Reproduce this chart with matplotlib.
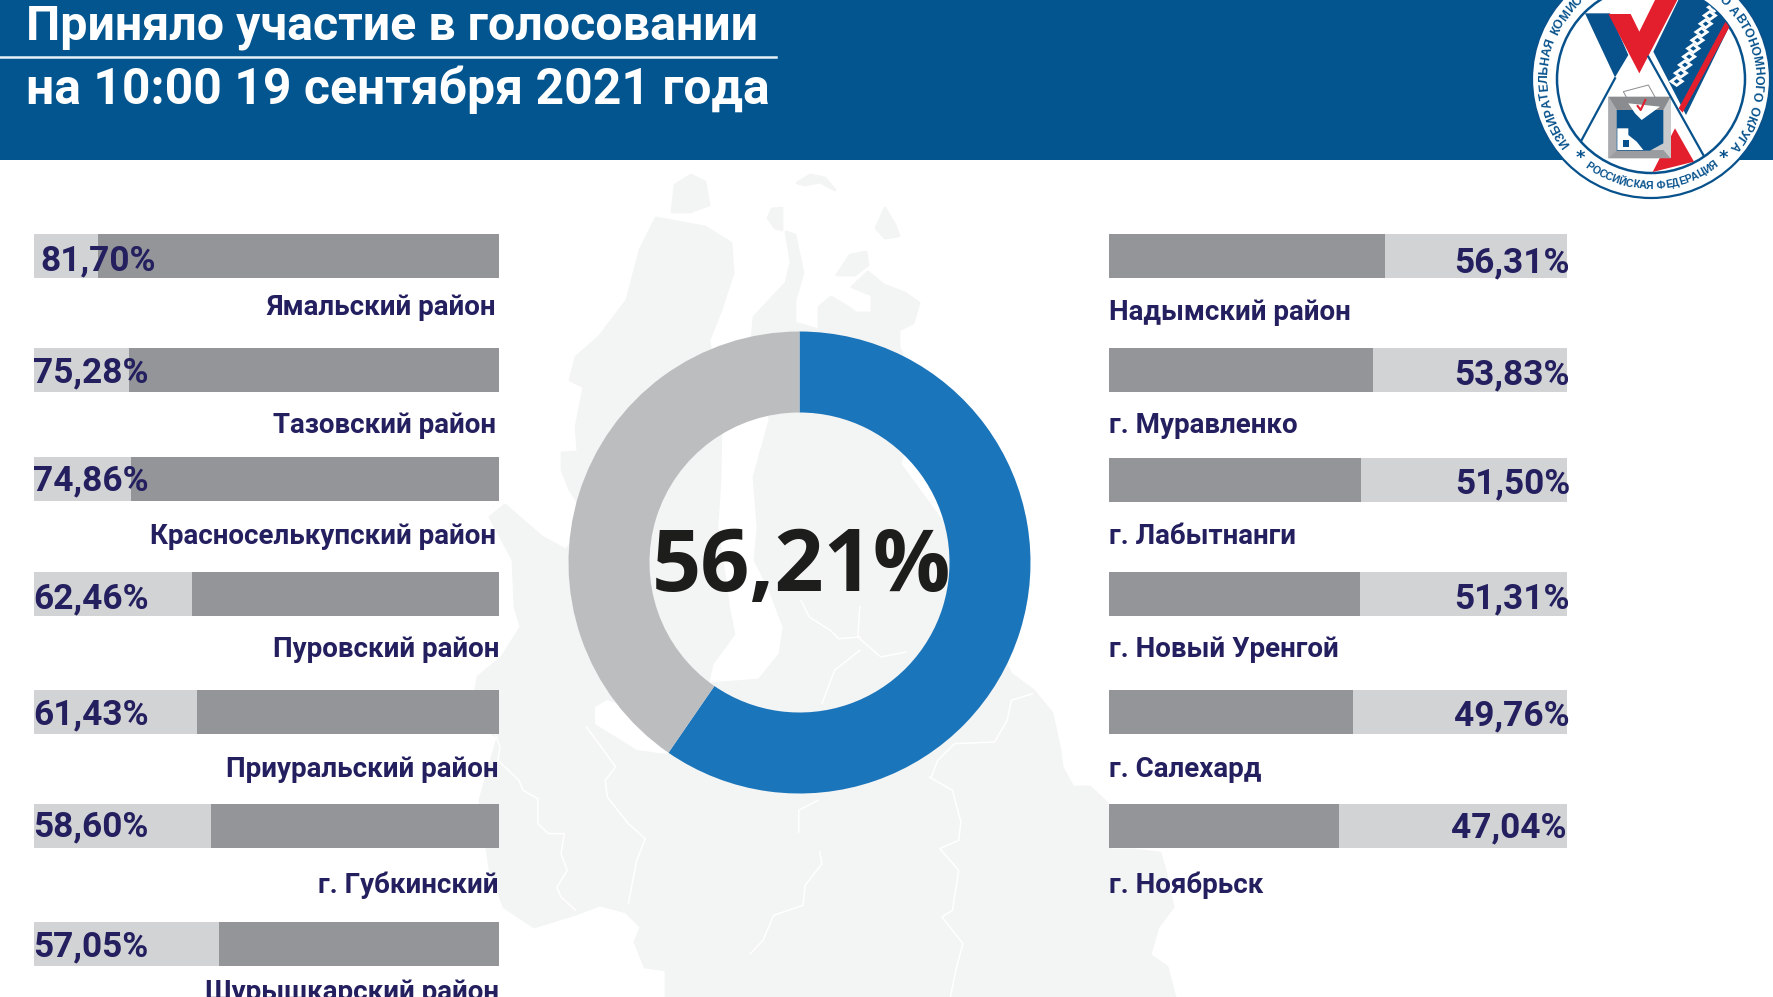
import numpy as np
import matplotlib
matplotlib.use("Agg")
import matplotlib.pyplot as plt
from matplotlib.patches import Polygon, Circle, Rectangle
from matplotlib.font_manager import FontProperties

# ---------- data ----------
title_lines = ["Приняло участие в голосовании", "на 10:00 19 сентября 2021 года"]
left_names = ["Ямальский район", "Тазовский район", "Красноселькупский район", "Пуровский район",
              "Приуральский район", "г. Губкинский", "Шурышкарский район"]
left_values = [81.70, 75.28, 74.86, 62.46, 61.43, 58.60, 57.05]
right_names = ["Надымский район", "г. Муравленко", "г. Лабытнанги", "г. Новый Уренгой",
               "г. Салехард", "г. Ноябрьск"]
right_values = [56.31, 53.83, 51.50, 51.31, 49.76, 47.04]
total_label = "56,21%"
donut_shares = [59.6, 40.4]

# ---------- layout (pixels) ----------
W, H = 1773, 997
left_tops = [234, 348, 457, 572, 690, 804, 922]
right_tops = [234, 348, 458, 572, 690, 804]
bar_h = 44
left_name_y = [315, 433, 544, 657, 777, 893, 1000]
right_name_y = [320, 433, 544, 657, 777, 893]
left_val_y = [270, 382, 490, 608, 724, 836, 956]
right_val_y = [272, 384, 493, 608, 725, 837]
left_val_x = [40, 33, 33, 33, 33, 33, 33]
right_val_x = [1570, 1570, 1570, 1570, 1570, 1567]
left_name_x = [496, 496, 496, 499, 499, 499, 499]

NAVY = "#03558f"; INK = "#241f5f"; DARK = "#939598"; LIGHT = "#d1d3d4"
LAND = "#f3f4f4"; BLUE = "#1b75bb"; GREY = "#bbbdbf"; LOGO_RED = "#e31e2d"; LOGO_BLUE = "#07528c"

fig = plt.figure(figsize=(W / 100, H / 100), dpi=100, facecolor="white")

def px_axes(x0, y0, x1, y1, z):
    a = fig.add_axes([x0 / W, 1 - y1 / H, (x1 - x0) / W, (y1 - y0) / H], zorder=z)
    a.axis("off")
    return a

base = px_axes(0, 0, W, H, 0); base.set_xlim(0, W); base.set_ylim(H, 0)

# ---------- background map (decorative) ----------
land = [(656,218),(640,250),(627,300),(599,337),(576,357),(570,380),(584,387),(576,427),(578,452),(562,453),
        (562,470),(570,490),(590,520),(566,550),(542,537),(505,505),(490,517),(513,560),(515,607),(521,627),
        (502,657),(478,677),(470,720),(498,737),(480,800),(490,870),(504,907),(534,927),(576,914),(600,905),
        (626,912),(641,927),(635,942),(645,967),(666,970),(666,997),(1175,997),(1167,967),(1150,955),(1158,927),
        (1173,907),(1165,870),(1160,853),(1133,850),(1110,850),(1107,803),(1090,787),(1073,787),(1062,767),
        (1060,750),(1052,713),(1033,690),(1011,674),(985,620),(943,523),(900,464),(920,400),(899,347),
        (899,330),(913,323),(919,303),(905,293),(884,285),(868,272),(852,287),(872,295),(872,313),(856,313),
        (848,307),(831,297),(819,307),(819,330),(795,323),(795,300),(803,273),(795,235),(786,232),(791,262),
        (786,283),(754,317),(752,340),(770,420),(754,477),(758,527),(755,560),(770,590),(784,627),(780,654),
        (759,680),(708,684),(712,664),(734,634),(729,610),(725,580),(717,527),(720,480),(721,420),(709,340),
        (721,310),(733,273),(731,243),(705,227)]
base.add_patch(Polygon(land, closed=True, fc=LAND, ec=LAND, lw=2, joinstyle="round"))
islands = [[(672,212),(675,185),(691,175),(705,182),(709,205),(690,212)],
           [(768,218),(772,209),(782,208),(782,230),(775,228)],
           [(876,228),(885,208),(895,225),(899,236),(885,238)],
           [(837,275),(850,255),(866,252),(868,265),(855,275)],
           [(797,183),(810,175),(825,178),(835,190),(820,182),(805,185)]]
for isl in islands:
    base.add_patch(Polygon(isl, closed=True, fc=LAND, ec=LAND, lw=2, joinstyle="round"))
base.add_patch(Polygon([(595,707),(607,700),(650,715),(680,750),(666,754),(637,750),(616,737),(595,724)],
                       closed=True, fc="white", ec="none"))
z6 = lambda pts: ([460 + p[0] / 2.376 for p in pts], [577 + p[1] / 3 for p in pts])
rivers = [
    [(85,475),(95,510),(90,550),(140,610),(150,640),(185,665),(185,740),(210,770),(248,770),(240,830),
     (255,880),(230,930),(240,960),(275,1000)],
    [(300,450),(330,500),(370,570),(345,610),(350,660),(400,740),(440,785),(420,850),(400,980)],
    [(805,765),(805,700),(850,670)],
    [(855,825),(860,860),(820,925),(815,985),(745,1015),(720,1090),(690,1130)],
    [(1115,600),(1170,640),(1190,735),(1185,790),(1140,815),(1185,880),(1170,1000),(1145,1020),(1195,1100),
     (1180,1170),(1165,1260)],
    [(1120,600),(1135,550),(1175,500),(1270,495),(1300,430),(1310,370),(1360,350)],
    [(810,70),(830,120),(880,160),(900,185),(950,180)],
    [(950,220),(890,280),(860,380)],
    [(950,90),(945,180),(1000,240),(1060,225)],
]
for r in rivers:
    xs, ys = z6(r)
    base.plot(xs, ys, color="white", lw=1.1, solid_joinstyle="round")

# ---------- header ----------
base.add_patch(Rectangle((0, 0), W, 160, fc=NAVY, ec="none"))
base.plot([0, 776], [57.5, 57.5], color="#e6f1f7", lw=1.8)

# ---------- bars ----------
lax = px_axes(34, 0, 499, H, 1); lax.set_ylim(H, 0); lax.set_xlim(94.7, 0)
rax = px_axes(1109, 0, 1567, H, 1); rax.set_ylim(H, 0); rax.set_xlim(0, 93.5)
for a, tops, vals, lim in ((lax, left_tops, left_values, 94.7), (rax, right_tops, right_values, 93.5)):
    centres = [t + bar_h / 2 for t in tops]
    a.barh(centres, [lim] * len(vals), height=bar_h, color=LIGHT, lw=0)
    a.barh(centres, vals, height=bar_h, color=DARK, lw=0)

# ---------- donut ----------
dax = px_axes(799.5 - 231, 562.5 - 231, 799.5 + 231, 562.5 + 231, 2)
dax.pie(donut_shares, colors=[BLUE, GREY], startangle=90, counterclock=False, radius=1,
        wedgeprops=dict(width=81 / 231, lw=0))
dax.set_xlim(-1, 1); dax.set_ylim(-1, 1)

# ---------- text layer ----------
top = px_axes(0, 0, W, H, 3); top.set_xlim(0, W); top.set_ylim(H, 0)
F = "Roboto"
top.text(26, 40, title_lines[0], color="white", fontsize=34.85, family=F, weight="bold", va="baseline", ha="left")
top.text(26, 104, title_lines[1], color="white", fontsize=35.9, family=F, weight="bold", va="baseline", ha="left")

fmt = lambda v: f"{v:.2f}".replace(".", ",") + "%"
for v, x, y in zip(left_values, left_val_x, left_val_y):
    top.text(x, y, fmt(v), color=INK, fontsize=25.4, family=F, weight="bold", ha="left", va="baseline")
for v, x, y in zip(right_values, right_val_x, right_val_y):
    top.text(x, y, fmt(v), color=INK, fontsize=25.4, family=F, weight="bold", ha="right", va="baseline")
for n, x, y in zip(left_names, left_name_x, left_name_y):
    top.text(x, y, n, color=INK, fontsize=20, family=F, weight="bold", ha="right", va="baseline", clip_on=False)
for n, y in zip(right_names, right_name_y):
    top.text(1109, y, n, color=INK, fontsize=20, family=F, weight="bold", ha="left", va="baseline")
top.text(801, 591, total_label, color="#1d1d1b", fontsize=62, family="Open Sans", weight="bold", ha="center", va="baseline")

# ---------- logo ----------
logo = px_axes(0, 0, W, H, 4); logo.set_xlim(0, W); logo.set_ylim(H, 0)
cx, cy, R_out, R_in = 1651, 79, 119, 94
logo.add_patch(Circle((cx, cy), R_out, fc="white", ec=LOGO_BLUE, lw=1.6))
logo.add_patch(Circle((cx, cy), R_in, fc="white", ec=LOGO_BLUE, lw=1.8))
clip = Circle((cx, cy), R_in, transform=logo.transData)
z2 = lambda pts: [(1500 + a / 3, b / 3) for a, b in pts]
def lp(pts, fc, **kw):
    p = Polygon(z2(pts), closed=True, fc=fc, ec=kw.pop("ec", "none"), **kw)
    logo.add_patch(p); p.set_clip_path(clip); return p
lp([(255,40),(330,40),(385,165),(345,232)], LOGO_BLUE)
lp([(540,-10),(625,-10),(695,65),(558,345),(460,155)], LOGO_BLUE)
lp([(325,42),(392,42),(418,95),(470,-10),(537,-10),(418,220)], LOGO_RED)
lp([(676,66),(692,74),(548,338),(536,325)], LOGO_RED)
n_steps = 10
for i in range(n_steps):
    t = i / (n_steps - 1)
    bx, by = 642 - 112 * t, 22 + 222 * t
    lp([(bx - 24, by), (bx, by - 17), (bx + 24, by), (bx, by + 17)], "white")
for i in range(n_steps):
    t = i / (n_steps - 1)
    bx, by = 642 - 112 * t, 22 + 222 * t
    lp([(bx - 9, by), (bx, by - 7), (bx + 9, by), (bx, by + 7)], LOGO_BLUE)
for seg in ([(345,235),(245,420)], [(445,170),(610,465)]):
    logo.plot(*zip(*z2(seg)), color=LOGO_BLUE, lw=1.6)
lp([(525,385),(582,485),(458,516)], LOGO_RED)
lp([(370,275),(445,255),(470,300),(395,320)], "white", ec="#8a8c8e", lw=0.7)
lp([(325,290),(512,290),(512,475),(325,475)], "#c8cacc")
lp([(325,290),(512,290),(490,330),(350,330)], "#8a8c8f")
lp([(325,290),(350,330),(350,450),(325,475)], "#a9abae")
lp([(325,475),(350,450),(490,450),(512,475)], "#9a9c9f")
lp([(350,330),(490,330),(490,430),(450,452),(350,452)], LOGO_BLUE)
lp([(352,385),(385,385),(385,405),(410,425),(430,450),(352,450)], "white")
lp([(368,420),(388,420),(388,440),(368,440)], LOGO_BLUE)
lp([(385,310),(480,320),(425,360),(405,340)], "white")
logo.plot(*zip(*z2([(413,318),(422,330),(436,300)])), color=LOGO_RED, lw=1.5)

rend = fig.canvas.get_renderer()
def arc_text(s, a0, a1, r, size, bottom=False):
    fp = FontProperties(family="Liberation Sans", weight="bold", size=size)
    w = [rend.get_text_width_height_descent(c if c != " " else "n", fp, False)[0] * (0.6 if c == " " else 1) for c in s]
    tot = sum(w)
    pos = 0
    for c, cw in zip(s, w):
        ang = np.radians(a0 + (a1 - a0) * (pos + cw / 2) / tot)
        pos += cw
        if bottom:
            x, y, rot = cx + r * np.sin(ang), cy + r * np.cos(ang), np.degrees(ang)
        else:
            x, y, rot = cx + r * np.sin(ang), cy - r * np.cos(ang), -np.degrees(ang)
        logo.text(x, y, c, color=LOGO_BLUE, fontproperties=fp, rotation=rot, rotation_mode="anchor",
                  ha="center", va="center", clip_on=False)
arc_text("ИЗБИРАТЕЛЬНАЯ КОМИССИЯ ЯМАЛО-НЕНЕЦКОГО АВТОНОМНОГО ОКРУГА", -129, 131, 106.5, 8.8)
arc_text("РОССИЙСКАЯ ФЕДЕРАЦИЯ", -37, 38, 107, 7.6, bottom=True)
logo.text(1580, 158, "*", color=LOGO_BLUE, fontsize=13, weight="bold", ha="center", va="center")
logo.text(1723, 158, "*", color=LOGO_BLUE, fontsize=13, weight="bold", ha="center", va="center")

fig.savefig("out.png", dpi=100)
